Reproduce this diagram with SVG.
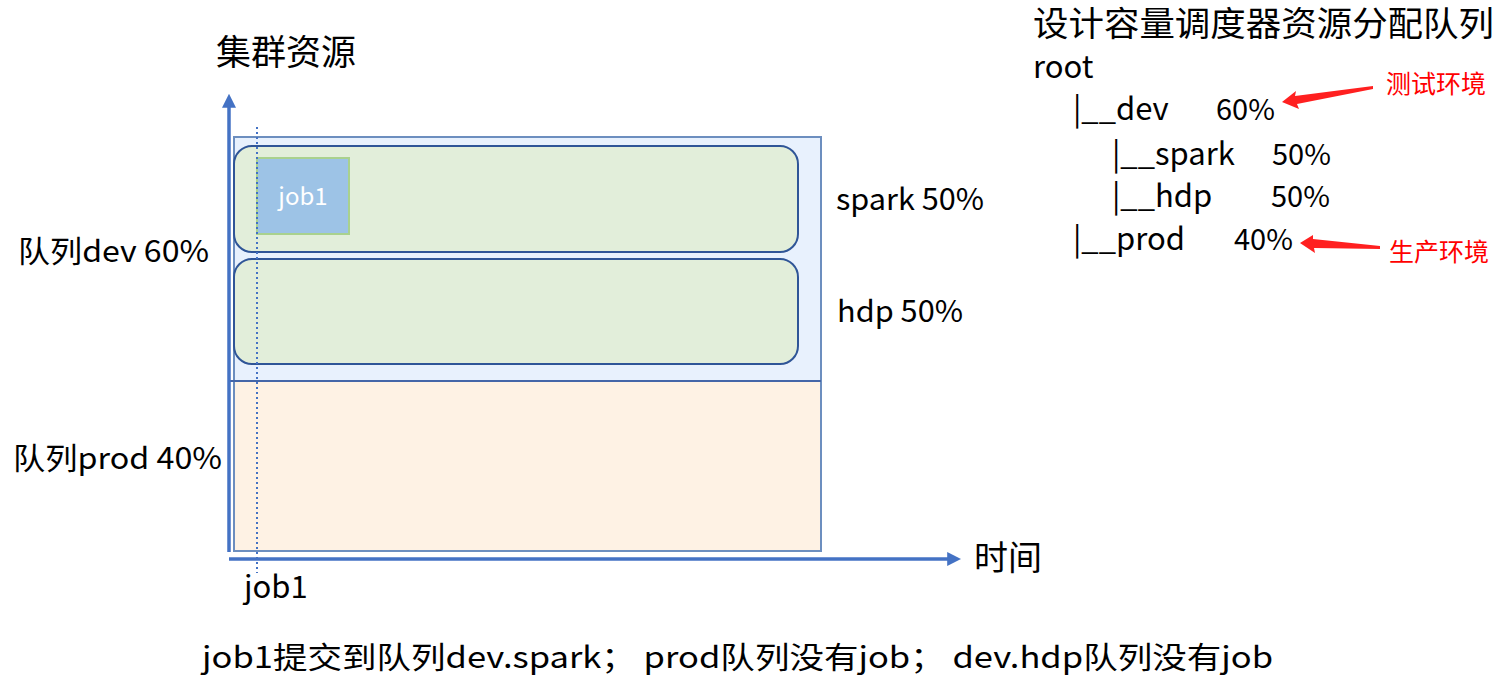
<svg xmlns="http://www.w3.org/2000/svg" width="1507" height="691" viewBox="0 0 1507 691">
<defs>
<style>
.t{font-family:"Noto Sans CJK SC","Liberation Sans",sans-serif;fill:#000}
.r{font-family:"Noto Sans CJK SC","Liberation Sans",sans-serif;fill:#FF0000}
.ax{stroke:#4472C4;stroke-width:3.5;fill:none}
.lane{fill:#E2EEDA;stroke:#2F5597;stroke-width:2}
.ra{fill:#FF2020;stroke:none}
</style>
<marker id="ah" viewBox="0 0 10 10" refX="2" refY="5" markerWidth="4" markerHeight="4" orient="auto-start-reverse" markerUnits="strokeWidth">
<path d="M0,0 L10,5 L0,10 Z" fill="#4472C4"/>
</marker>
</defs>
<g id="dev-queue">
<rect x="234" y="137" width="587" height="244" fill="#E8F1FD" stroke="#6C8EBF" stroke-width="2"/>
</g>
<g id="prod-queue">
<rect x="234" y="381" width="587" height="170" fill="#FEF2E4" stroke="#6C8EBF" stroke-width="2"/>
<line x1="229" y1="381" x2="821" y2="381" stroke="#4466A8" stroke-width="2"/>
</g>
<g id="spark-lane">
<rect class="lane" x="234" y="146" width="564" height="106" rx="18"/>
</g>
<g id="hdp-lane">
<rect class="lane" x="234" y="259" width="564" height="105" rx="18"/>
</g>
<g id="job1-box">
<rect x="257" y="158" width="92" height="76" fill="#9DC3E6" stroke="#A9D18E" stroke-width="2"/>
<text class="t" x="303" y="205" font-size="24" style="fill:#fff" text-anchor="middle">job1</text>
</g>
<g id="connectors">
<line class="ax" x1="229" y1="552" x2="229" y2="105" marker-end="url(#ah)"/>
<line class="ax" x1="229" y1="559" x2="950" y2="559" marker-end="url(#ah)"/>
<line x1="257" y1="127" x2="257" y2="573" stroke="#4472C4" stroke-width="2" stroke-dasharray="2,3"/>
<polygon class="ra" points="1282,102 1296,91 1295,96 1373,86 1373,89 1297,104 1299,109"/>
<polygon class="ra" points="1300,243 1313,235 1313,239 1380,246 1380,249 1314,248 1315,253"/>
</g>
<g id="labels">
<text class="t" x="216" y="65" font-size="35">集群资源</text>
<text class="t" x="18" y="262" font-size="30" textLength="191" lengthAdjust="spacingAndGlyphs">队列dev 60%</text>
<text class="t" x="13" y="469" font-size="30" textLength="209" lengthAdjust="spacingAndGlyphs">队列prod 40%</text>
<text class="t" x="836" y="210" font-size="30" textLength="148" lengthAdjust="spacingAndGlyphs">spark 50%</text>
<text class="t" x="837" y="322" font-size="30" textLength="126" lengthAdjust="spacingAndGlyphs">hdp 50%</text>
<text class="t" x="974" y="570" font-size="34">时间</text>
<text class="t" x="244" y="598" font-size="31">job1</text>
<text class="t" x="202" y="668" font-size="30" textLength="1071" lengthAdjust="spacingAndGlyphs">job1提交到队列dev.spark； prod队列没有job； dev.hdp队列没有job</text>
</g>
<g id="tree">
<text class="t" x="1033" y="36" font-size="34" textLength="461" lengthAdjust="spacingAndGlyphs">设计容量调度器资源分配队列</text>
<text class="t" x="1033" y="78" font-size="31">root</text>
<text class="t" x="1073" y="120" font-size="31">|__dev</text>
<text class="t" x="1216" y="120" font-size="29">60%</text>
<text class="t" x="1112" y="165" font-size="31">|__spark</text>
<text class="t" x="1272" y="165" font-size="29">50%</text>
<text class="t" x="1112" y="207" font-size="31">|__hdp</text>
<text class="t" x="1271" y="207" font-size="29">50%</text>
<text class="t" x="1073" y="250" font-size="31">|__prod</text>
<text class="t" x="1234" y="250" font-size="29">40%</text>
<text class="r" x="1386" y="93" font-size="25">测试环境</text>
<text class="r" x="1389" y="261" font-size="25">生产环境</text>
</g>
</svg>
